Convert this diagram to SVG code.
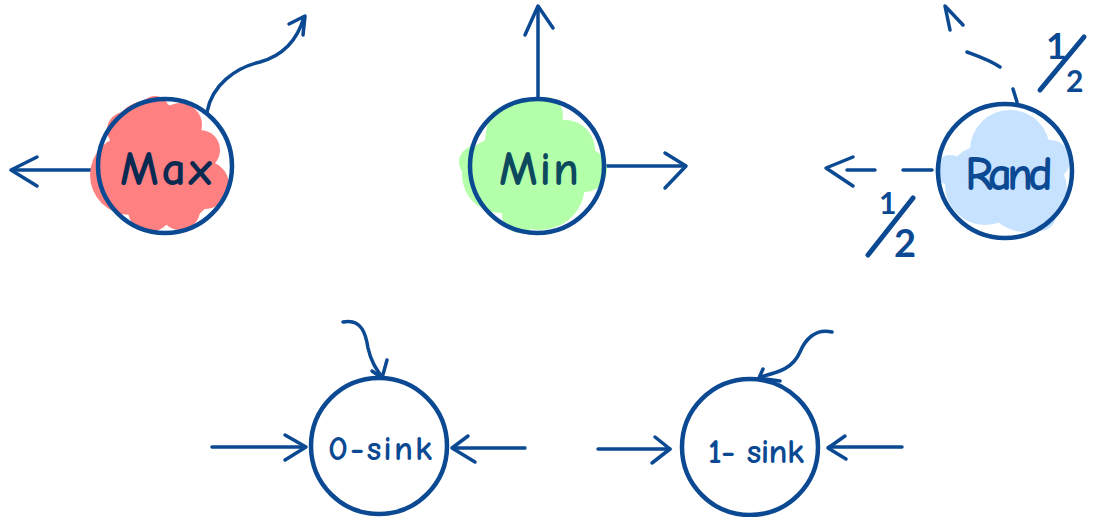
<svg xmlns="http://www.w3.org/2000/svg" width="1095" height="517" viewBox="0 0 1095 517">
<style>
.ln{fill:none;stroke:#0b4993;stroke-width:3.5;stroke-linecap:round;stroke-linejoin:round}
.fr{fill:none;stroke:#0b4993;stroke-width:5;stroke-linecap:round}
.ring{fill:none;stroke:#0b4993;stroke-width:4.5}
.lbl{font-family:"Comic Neue","Lato","Liberation Sans",sans-serif;text-anchor:middle;font-weight:bold}
.big{font-size:48px}
.small{font-size:35px;fill:#0b4993}
.frac{font-family:"Lato","Liberation Sans",sans-serif;fill:#0b4993;font-weight:bold}
</style>
<rect width="1095" height="517" fill="#ffffff"/>
<g id="connectors">
  <path class="ln" d="M97 170 H12"/>
  <path class="ln" d="M37 157 L11 170 L37 186"/>
  <path class="ln" d="M207 112 C212 85 235 68 260 62 C285 55 298 38 304 17"/>
  <path class="ln" d="M289 24 L305 16 L303 35"/>
  <path class="ln" d="M538 98 V7"/>
  <path class="ln" d="M525 35 L538 6 L553 28"/>
  <path class="ln" d="M605 166 H685"/>
  <path class="ln" d="M665 153 L686 166 L665 188"/>
  <path class="ln" d="M932 170 H903 M875 170 H847"/>
  <path class="ln" d="M853 157 L826 168 L853 186"/>
  <path class="ln" d="M1017 102 L1013 89 M1000 67 C990 60 978 56 967 52"/>
  <path class="ln" d="M950 30 L945 6 L963 25"/>
  <path class="ln" d="M212 447 H305"/>
  <path class="ln" d="M285 435 L306 447 L285 460"/>
  <path class="ln" d="M525 448 H453"/>
  <path class="ln" d="M468 436 L452 448 L475 462"/>
  <path class="ln" d="M343 322 C362 318 366 335 368 348 C371 362 377 370 382 377"/>
  <path class="ln" d="M372 371 L382 378 L387 360"/>
  <path class="ln" d="M598 449 H670"/>
  <path class="ln" d="M655 437 L670 449 L652 463"/>
  <path class="ln" d="M902 447 H829"/>
  <path class="ln" d="M845 436 L828 448 L846 459"/>
  <path class="ln" d="M832 332 C815 328 805 340 800 352 C793 368 780 372 760 377"/>
  <path class="ln" d="M763 369 L759 378 L780 381"/>
</g>
<g id="max">
  <g fill="#ff8080">
    <circle cx="150" cy="140" r="40"/>
    <circle cx="180" cy="125" r="22"/>
    <circle cx="155" cy="110" r="14"/>
    <circle cx="200" cy="150" r="20"/>
    <circle cx="205" cy="185" r="24"/>
    <circle cx="130" cy="175" r="40"/>
    <circle cx="170" cy="180" r="45"/>
    <circle cx="150" cy="210" r="22"/>
    <circle cx="180" cy="210" r="20"/>
    <circle cx="108" cy="180" r="16"/>
    <circle cx="125" cy="130" r="18"/>
  </g>
  <circle class="ring" cx="165" cy="166" r="67"/>
  <text class="lbl big" x="166" y="185" fill="#0a2a52" textLength="92">Max</text>
</g>
<g id="min">
  <g fill="#b3ffaa">
    <circle cx="525" cy="140" r="40"/>
    <circle cx="545" cy="115" r="18"/>
    <circle cx="565" cy="150" r="30"/>
    <circle cx="500" cy="175" r="38"/>
    <circle cx="540" cy="185" r="45"/>
    <circle cx="585" cy="170" r="22"/>
    <circle cx="475" cy="162" r="16"/>
    <circle cx="505" cy="125" r="18"/>
    <circle cx="520" cy="215" r="18"/>
  </g>
  <circle class="ring" cx="537" cy="166" r="67"/>
  <text class="lbl big" x="539" y="185" fill="#0d4a5e" textLength="80">Min</text>
</g>
<g id="rand">
  <g fill="#c6e2ff">
    <circle cx="1010" cy="150" r="40"/>
    <circle cx="985" cy="185" r="40"/>
    <circle cx="1025" cy="190" r="42"/>
    <circle cx="1040" cy="215" r="16"/>
    <circle cx="950" cy="170" r="15"/>
    <circle cx="1050" cy="160" r="20"/>
  </g>
  <circle class="ring" cx="1005" cy="171" r="67"/>
  <text class="lbl big" x="1009" y="190" fill="#0b4993" textLength="88">Rand</text>
  <text class="frac" font-size="36" x="1046" y="59">1</text>
  <path class="fr" d="M1084 37 L1040 90"/>
  <text class="frac" font-size="30" x="1066" y="92" textLength="26">2</text>
  <text class="frac" font-size="30" x="879" y="214">1</text>
  <path class="fr" d="M913 198 L868 255"/>
  <text class="frac" font-size="38" x="894" y="257" textLength="32">2</text>
</g>
<g id="sink0">
  <circle class="ring" cx="379" cy="446" r="68"/>
  <text class="lbl small" x="380" y="460" textLength="104">0-sink</text>
</g>
<g id="sink1">
  <circle class="ring" cx="750" cy="447" r="68"/>
  <text class="lbl small" x="756" y="463" textLength="96">1- sink</text>
</g>
</svg>
